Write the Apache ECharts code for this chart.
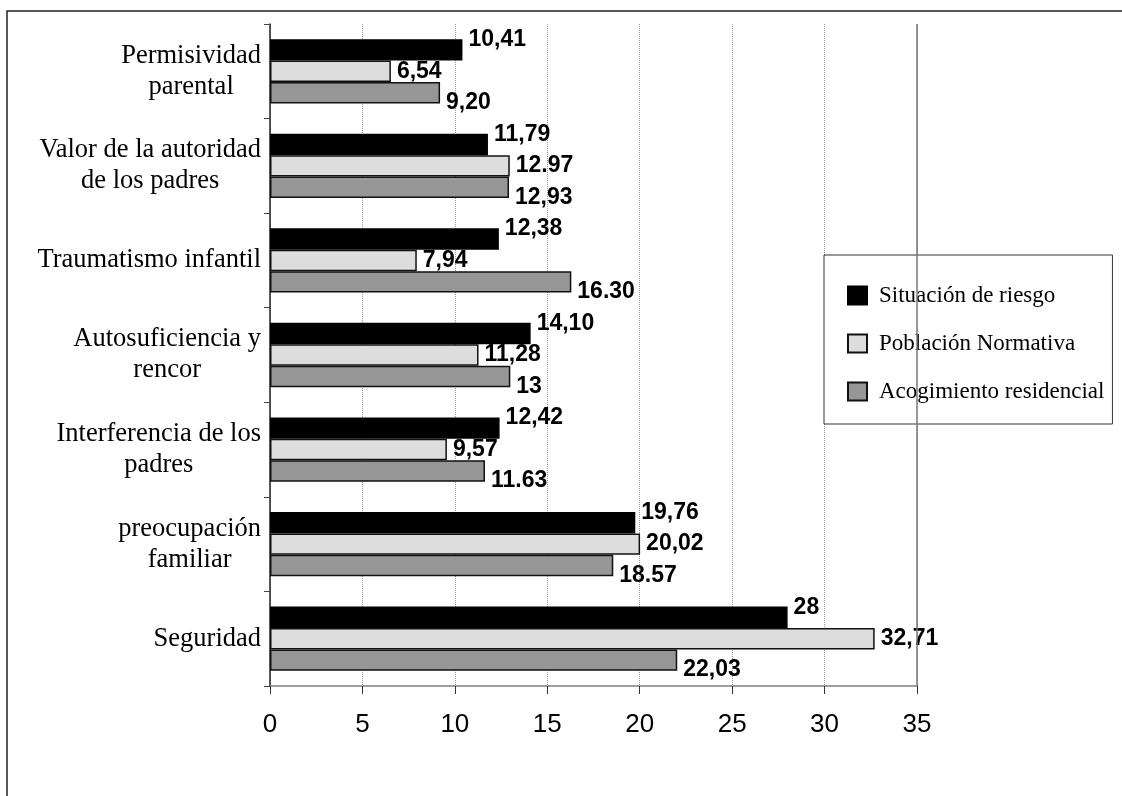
<!DOCTYPE html>
<html>
<head>
<meta charset="utf-8">
<style>
  html, body { margin: 0; padding: 0; background: #ffffff; }
  #chart { width: 1122px; height: 796px; }
</style>
<script src="https://cdn.jsdelivr.net/npm/echarts@6/dist/echarts.min.js"></script>
</head>
<body>
<div id="chart"></div>
<script>
// Scale dimensions, listed top to bottom
const categories = [
  'Permisividad\nparental',
  'Valor de la autoridad\nde los padres',
  'Traumatismo infantil',
  'Autosuficiencia y\nrencor',
  'Interferencia de los\npadres',
  'preocupación\nfamiliar',
  'Seguridad'
];

const seriesNames = ['Situación de riesgo', 'Población Normativa', 'Acogimiento residencial'];

// Mean scores per group
const riesgoValues      = [10.41, 11.79, 12.38, 14.10, 12.42, 19.76, 28];
const normativaValues   = [6.54, 12.97, 7.94, 11.28, 9.57, 20.02, 32.71];
const residencialValues = [9.20, 12.93, 16.30, 13, 11.63, 18.57, 22.03];

// Value labels as printed next to each bar
const riesgoLabels      = ['10,41', '11,79', '12,38', '14,10', '12,42', '19,76', '28'];
const normativaLabels   = ['6,54', '12.97', '7,94', '11,28', '9,57', '20,02', '32,71'];
const residencialLabels = ['9,20', '12,93', '16.30', '13', '11.63', '18.57', '22,03'];

// Value axis ticks
const axisMin = 0;
const axisMax = 35;
const axisStep = 5;

const SERIF = "'Liberation Serif', 'Times New Roman', serif";
const SANS = "'Liberation Sans', Arial, sans-serif";

const chart = echarts.init(document.getElementById('chart'), null, { renderer: 'canvas' });

function barSeries(name, values, labels, fill, border, dy, withEdge) {
  const s = {
    name: name,
    type: 'bar',
    data: values,
    barGap: '0%',
    barCategoryGap: '32%',
    itemStyle: { color: fill, borderColor: border, borderWidth: 1.5 },
    label: {
      show: true,
      position: 'right',
      distance: 6,
      offset: [0, dy],
      formatter: p => labels[p.dataIndex],
      fontFamily: SANS,
      fontWeight: 'bold',
      fontSize: 23,
      color: '#000'
    },
    emphasis: { disabled: true },
    animation: false
  };
  if (withEdge) {
    // solid right-hand edge of the plot at the axis maximum
    s.markLine = {
      silent: true,
      symbol: 'none',
      label: { show: false },
      lineStyle: { color: '#777', type: 'solid', width: 1.5 },
      data: [{ xAxis: axisMax }],
      animation: false
    };
  }
  return s;
}

const option = {
  backgroundColor: '#ffffff',
  animation: false,
  graphic: [{
    type: 'rect',
    silent: true,
    shape: { x: 7, y: 11, width: 1300, height: 1000 },
    style: { fill: 'none', stroke: '#222', lineWidth: 1.5 }
  }],
  grid: { left: 270, right: 205, top: 24, bottom: 110, containLabel: false },
  legend: {
    orient: 'vertical',
    left: 824,
    top: 255,
    padding: [29, 8, 21, 23],
    itemGap: 25,
    itemWidth: 19,
    itemHeight: 18,
    icon: 'rect',
    backgroundColor: '#ffffff',
    borderColor: '#333',
    borderWidth: 1,
    borderRadius: 0,
    data: seriesNames,
    textStyle: { fontFamily: SERIF, fontSize: 23, color: '#000', padding: [0, 0, 0, 7] },
    selectedMode: false
  },
  xAxis: {
    type: 'value',
    min: axisMin,
    max: axisMax,
    interval: axisStep,
    axisLine: { show: true, lineStyle: { color: '#808080', width: 1.5 } },
    axisTick: { show: true, length: 8, lineStyle: { color: '#333', width: 1 } },
    axisLabel: { fontFamily: SANS, fontSize: 26, color: '#000', margin: 26 },
    splitLine: { show: true, lineStyle: { color: '#999', type: 'dotted', width: 1 } }
  },
  yAxis: {
    type: 'category',
    inverse: true,
    data: categories,
    axisLine: { show: true, lineStyle: { color: '#222', width: 1.5 } },
    axisTick: { show: true, length: 6, lineStyle: { color: '#444', width: 1 } },
    axisLabel: {
      margin: 9,
      formatter: v => v.split('\n').map(line => '{c|' + line + '}').join('\n'),
      rich: {
        c: { align: 'center', fontFamily: SERIF, fontSize: 26.5, lineHeight: 31, color: '#000' }
      }
    },
    splitLine: { show: false }
  },
  series: [
    barSeries(seriesNames[0], riesgoValues, riesgoLabels, '#000000', '#000000', -10, true),
    barSeries(seriesNames[1], normativaValues, normativaLabels, '#dddddd', '#111111', 0, false),
    barSeries(seriesNames[2], residencialValues, residencialLabels, '#969696', '#111111', 10, false)
  ]
};

chart.setOption(option);
</script>
</body>
</html>
